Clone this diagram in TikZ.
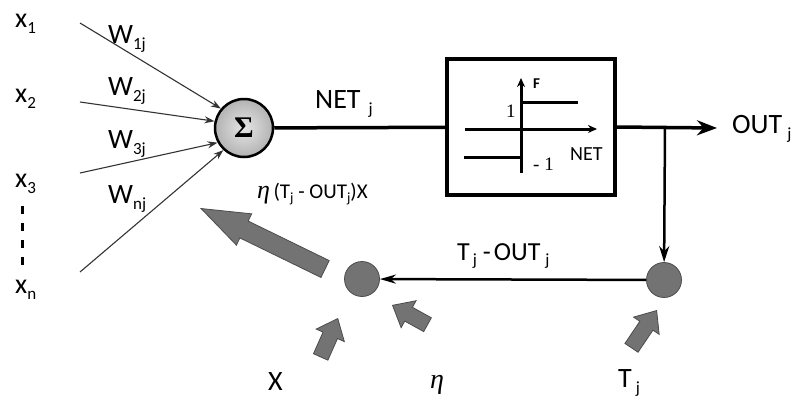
\documentclass[tikz,border=0pt]{standalone}
\usepackage{fontspec}
\setmainfont{Carlito}
\newfontfamily\numfont{Liberation Serif}
\usetikzlibrary{arrows.meta,shapes.arrows}
\newcommand{\sbs}[2][17]{\raisebox{-0.22em}{\fontsize{#1}{#1}\selectfont #2}}
\newcommand{\etasym}{{\numfont\itshape η}}
\tikzset{
  lab/.style={font=\fontsize{28}{30}\selectfont, inner sep=0pt, anchor=base west},
  input/.style={draw=black!80, line width=1.1pt, -{Stealth[length=10pt,width=7pt]}},
  thickline/.style={line width=3.5pt},
  fbline/.style={line width=2.5pt},
  axis/.style={line width=3pt},
  fat/.style={single arrow, draw=black!70, fill=black!55, line width=0.8pt,
    inner xsep=0pt, anchor=tip},
  dot/.style={circle, draw=black!70, fill=black!55, line width=0.8pt,
    minimum size=35pt, inner sep=0pt},
}
\begin{document}
\begin{tikzpicture}[x=1pt,y=-1pt]
  \useasboundingbox (0,0) rectangle (798,402);
  % inputs
  \node[lab] (x1) at (15,27) {x\sbs{1}};
  \node[lab] (x2) at (15,102) {x\sbs{2}};
  \node[lab] (x3) at (15,187) {x\sbs{3}};
  \node[lab] (xn) at (15,293) {x\sbs{n}};
  \draw[line width=3pt, dash pattern=on 8pt off 9pt] (22,206) -- (22,270);
  \coordinate (i1) at (80,23);
  \coordinate (i2) at (80,102);
  \coordinate (i3) at (80,173);
  \coordinate (i4) at (80,272);
  % summation
  \node[circle, draw, line width=2.5pt, inner color=black!10, outer color=black!30,
    minimum size=58pt, inner sep=0pt] (sum) at (244,128)
    {\fontsize{30}{30}\numfont\bfseries Σ};
  \draw[input] (i1) -- (sum.140);
  \draw[input] (i2) -- (sum.167);
  \draw[input] (i3) -- (sum.209);
  \draw[input] (i4) -- (sum.227);
  \node[lab] (w1) at (108,43) {W\sbs{1j}};
  \node[lab] (w2) at (108,95) {W\sbs{2j}};
  \node[lab] (w3) at (108,148) {W\sbs{3j}};
  \node[lab] (wn) at (108,203) {W\sbs{nj}};
  % activation block
  \node[draw, line width=4pt, minimum width=168pt, minimum height=136pt, inner sep=0pt]
    (act) at (531,127) {};
  \draw[thickline] (sum) -- (act);
  \node[lab] (net) at (315,108) {NET\hspace{8pt}\sbs{j}};
  \draw[axis, -{Stealth[length=9pt,width=8pt]}] (521,173) -- (521,78);
  \draw[axis, -{Stealth[length=9pt,width=8pt]}] (465,129) -- (597,129);
  \draw[axis] (521,102) -- (578,102);
  \draw[axis] (464,157) -- (521,157);
  \node[lab, font=\fontsize{15}{15}\selectfont\bfseries] (f) at (533,88) {F};
  \node[lab, font=\fontsize{19}{19}\numfont] (one) at (506,117) {1};
  \node[lab, font=\fontsize{19}{19}\numfont] (mone) at (533,170) {- 1};
  \node[lab, font=\fontsize{20}{20}\selectfont] (netax) at (570,160) {NET};
  % output
  \coordinate (outtip) at (717,128);
  \coordinate (br) at (665,128);
  \draw[thickline, -{Stealth[length=20pt,width=15pt]}] (act.east) -- (outtip);
  \node[lab] (out) at (732,133) {OUT\hspace{5pt}\sbs{j}};
  % learning feedback
  \node[dot] (tdot) at (664,280) {};
  \node[dot] (edot) at (362,279) {};
  \draw[fbline, -{Stealth[length=16pt,width=10pt]}] (br) -- (tdot);
  \draw[fbline, -{Stealth[length=16pt,width=9pt]}] (tdot) -- (edot);
  \node[lab, font=\fontsize{26}{28}\selectfont] (err) at (457,260)
    {T\hspace{3pt}\sbs{j}\hspace{6pt}-\hspace{3pt}OUT\hspace{5pt}\sbs{j}};
  \node[lab, font=\fontsize{21}{22}\selectfont] (rule) at (257,198)
    {{\fontsize{26}{26}\etasym}\,(T\sbs[14]{j} - OUT\sbs[14]{j})X};
  \node[fat, rotate=154, minimum height=138pt, inner ysep=9pt,
    single arrow head extend=8pt, single arrow tip angle=40] (upd) at (200,208) {};
  \node[fat, rotate=66, minimum height=42pt, inner ysep=7.5pt,
    single arrow head extend=7.5pt, single arrow tip angle=80] (ax) at (338,318) {};
  \node[fat, rotate=151, minimum height=40pt, inner ysep=7.5pt,
    single arrow head extend=7.5pt, single arrow tip angle=80] (aeta) at (392,305) {};
  \node[fat, rotate=56, minimum height=45pt, inner ysep=7.5pt,
    single arrow head extend=7.5pt, single arrow tip angle=80] (at) at (657,310) {};
  \node[lab] (lx) at (268,390) {X};
  \node[lab] (leta) at (430,388) {\etasym};
  \node[lab] (lt) at (618,387) {T\hspace{4pt}\sbs{j}};
\end{tikzpicture}
\end{document}
